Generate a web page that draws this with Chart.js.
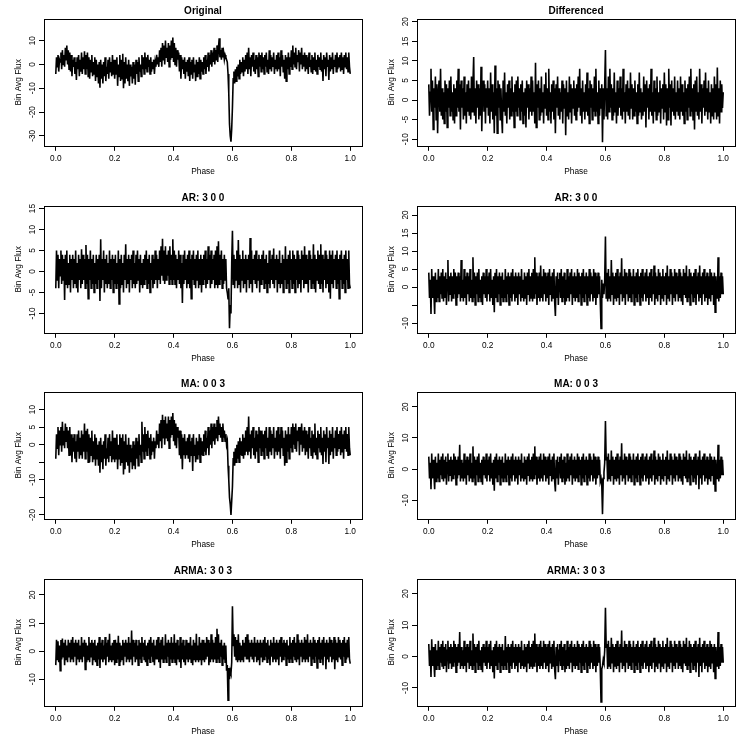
<!DOCTYPE html>
<html>
<head>
<meta charset="utf-8">
<script src="https://cdn.jsdelivr.net/npm/chart.js@4.4.1/dist/chart.umd.min.js"></script>
<style>
  html, body { margin: 0; padding: 0; background: #fff; }
  #page { position: relative; width: 750px; height: 750px; }
  #page canvas { position: absolute; }
</style>
</head>
<body>
<div id="page"></div>
<script>
/* ================= DATA ================= */
// bin average flux, 401 phase bins from 0.0 to 1.0 (one row = 0.05 in phase)
const original = [
  -4, 3, -1, 4, -3, 2, 1, 5, -2, 6, 0, 4, -1, 7, 2, 8, 0, 6, -2, 5,
  -3, 4, -5, 2, -1, 3, -4, 1, -6.5, 3, -2, 4, -5, 2, -3, 5, -4, 3, -2, 5.5,
  -4, 4, -2, 5, -5, 3, -6, 2, -3, 4, -5, 1, -4, 3, -7, 2, -5, 0, -8, 1,
  -9.8, 2, -6, 0, -8, 1, -5, 3, -7, -1, -4, 2, -6, 3, -3, 1, -5, 4, -4, 2,
  -6, 2, -4, 3, -9, 0, -5, 4, -7, 2, -6, 4.5, -10, 1, -8, 3, -6, 0, -7, 2,
  -9, 0, -5, -1, -8, 1, -6, 0, -8.5, 2, -4, 1, -7, 3, -3, 0, -5, 4, -2, 3,
  -4, 5, -2, 3, -3, 4, -1, 2, -4, 3, -3, 1, -2, 2, -4, 1, -1, 4, 0, 3,
  -1, 6, 1, 7, -1, 9, 2, 8, 0, 10, 3, 7, 1, 9, -1, 8, 2, 10, 3, 11.3,
  1, 9, 0, 7, -1, 6, 2, 5, -3, 4, -6, 3, -2, 2, -4, 3, -6, 1, -3, 2,
  -5, 3, -7, 1, -4, 2, -6, 3, -3, 0, -7, 2, -5, 1, -4, 3, -6, 2, -3, 1,
  -4, 3, -2, 4, -4, 2, -1, 5, -3, 4, 0, 6, -1, 5, 1, 7, 0, 6, 2, 8,
  1, 7, 11, 3, 6, 2, 7, 3, 5, 2, 4, 3, 2, 1, -4, -12, -25, -30, -32.5, -27,
  -18, -6, -3, -8, -2, -7, -1, -5, 0, -6, 2, -4, 1, -3, 3, -5, 2, -3, 4, -2,
  5, -4, 7, -2, 3, -5, 4, -1, 5, -3, 2, -4, 4, -2, 3, -5, 5, -1, 4, -3,
  5, -2, 3, -4, 4, -1, 5, -3, 2, -4, 6, -2, 4, -3, 3, -1, 5, -4, 2, -2,
  4, -3, 5, -2, 3, -5, 6, -1, 4, -3, 2, -6, 4, -7, 3, -2, 5, -4, 3, -1,
  6, -2, 8, 0, 5, -1, 7, -2, 4, 1, 6, -3, 5, 0, 7, -2, 4, -1, 5, -3,
  4, -2, 3, -4, 5, -1, 2, -3, 4, -4, 3, -2, 5, -3, 2, -4, 4, -1, 3, -2,
  5, -3, 2, -7, 4, -2, 3, -5, 5, -1, 2, -6.5, 4, -3, 3, -2, 5, -4, 2, -1,
  4, -3, 5, -2, 3, -1, 4, -3, 5, -2, 3, -4, 4, -1, 5, -2, 3, -3, 5, -1,
  -4
];

const differenced = [
  4, -4, 2, 8, -3, 5, -7.5, 3, -2, 6, -5, 4, -8.5, 2, 5, -3, 8, -4, 3, -5,
  2, -6, 5, -3, 4, -7, 3, -2, 5, -4, 6, -3, 2, -5, 4, -6, 3, -4, 5, -2,
  8, -3, 4, -7.5, 5, -2, 3, -5, 6, -4, 2, -6, 4, -3, 5, -4, 3, -5, 6, -3,
  4, 11, -4, 3, -6, 5, -2, 4, -5, 3, -4, 8.5, -8, 2, 5, -3, 4, -6, 3, -2,
  5, -4, 3, -6, 7, -3, 4, -5, 2, -8.5, 8.8, -4, 3, -8.5, 5, -2, 4, -5, 3, -4,
  -8.5, 5, -3, 7, -4, 2, -6, 4, -2, 5, -5, 3, -4, 6, -3, 2, -7, 4, -3, 5,
  -4, 6, -2, 3, -5, 4, -3, 5, -6, 2, -4, 3, -7, 5, -2, 4, -5, 3, -3, 6,
  -4, 5, -3, 2, -6, 9.5, -7, 4, -2, 5, -5, 3, -4, 6, -3, 2, -6, 4, -2, 7,
  -4, 3, -5, 8, -3, 2, -6, 4, -3, 5, -5, 3, -8.5, 4, -2, 6, -4, 3, -5, 2,
  -3, 5, -6, 4, -2, 3, -9, 5, -4, 2, -5, 6, -3, 4, -6, 3, -2, 5, -4, 3,
  -5, 4, -3, 6, -2, 8, -4, 3, -6, 5, -3, 2, -5, 4, -3, 7, -4, 3, -6, 5,
  -2, 4, -5, 3, -3, 6, -4, 8, -3, 2, -6, 5, -4, 3, -2, 4, -10.8, 3, -5, 4,
  12.8, -4, 3, -5, 6, -3, 8, -2, 4, -5, 3, -4, 7, -3, 2, -6, 5, -4, 3, -2,
  6, -4, 3, -5, 8, -3, 2, -6, 4, -3, 5, -4, 3, -5, 7, -2, 4, -5, 3, -4,
  5, -3, 2, -6, 4, -4, 7, -3, 3, -5, 2, -4, 6, -3, 4, -7, 5, -2, 3, -5,
  4, -3, 8, -4, 2, -6, 5, -3, 3, -5, 6, -4, 2, -3, 5, -6, 3, -2, 4, -5,
  7, -3, 4, -6.5, 3, -5, 8, -2, 4, -6.5, 5, -3, 3, -4, 6, -5, 2, -3, 5, -4,
  3, -5, 6, -3, 4, -4, 2, -6, 5, -3, 3, -5, 4, -2, 6, -4, 8, -3, 3, -5,
  4, -7.5, 5, -3, 6, -4, 2, -5, 8, -3, 4, -6, 3, -2, 5, -4, 7, -3, 3, -5,
  5, -3, 2, -6, 4, -4, 3, -5, 6, -3, 4, -5, 8.3, -4, 3, -6, 5, -3, 4, -2,
  2
];

const ar300a = [
  -4, 5, -2, 4, -4, 3, -1, 5, -3, 4, -2, 3, -6.8, 4, -3, 5, -4, 2, -3, 4,
  -5, 3, -2, 4, -4, 3, -3, 5, -4, 2, -5, 4, -2, 3, -4, 5.3, -3, 4, -2, 3,
  -4, 6.3, -3, 4, -6.5, 3, -2, 5, -4, 3, -3, 4, -5, 2, -3, 4, -4, 3, -2, 4,
  -7, 7.7, -4, 3, -2, 5, -5, 3, -3, 4, -4, 2, -3, 5, -4, 3, -2, 4, -5, 3,
  -3, 4, -4, 2, -3, 5, -7.7, 3, -4, 4, -3, 2, -5, 4, -2, 6.5, -4, 3, -3, 4,
  -5, 3, -2, 4, -4, 5, -3, 2, -4, 4, -3, 5, -2, 3, -5, 4, -3, 2, -4, 3,
  -3, 4, -2, 5, -4, 3, -3, 4, -5, 2, -2, 4, -4, 3, -3, 5, -2, 4, -4, 3,
  -2, 5, -3, 6, -1, 7.8, -2, 5, -3, 6, -2, 4, -1, 5, -3, 6, -2, 4, -3, 7.7,
  -2, 5, -3, 4, -4, 3, -2, 5, -3, 4, -4, 2, -7.5, 4, -3, 5, -2, 3, -4, 4,
  -3, 5, -4, 3, -6.5, 4, -2, 5, -3, 3, -4, 4, -2, 5, -4, 3, -3, 4, -5, 3,
  -3, 4, -2, 5, -4, 3, -3, 6, -2, 4, -4, 5, -3, 3, -2, 4, -4, 5, -3, 6,
  -4, 7.2, -3, 4, -2, 5, -4, 3, -3, 4, -2, 3, -4, -5, -6.5, -4, -13.5, -8, -10, 2,
  9.7, -3, 4, -4, 3, -2, 5, -4, 7.5, -3, 4, -5, 3, -2, 5, -4, 3, -3, 4, -5,
  3, -2, 4, -4, 8, -3, 5, -5, 3, -2, 4, -3, 5, -4, 3, -2, 4, -5, 3, -3,
  4, -2, 5, -4, 3, -3, 4, -5, 2, -3, 5, -4, 3, -2, 4, -3, 5.5, -4, 3, -2,
  4, -5, 3, -3, 5, -4, 2, -3, 4, -5, 3, -2, 6, -4, 3, -3, 4, -5, 5, -2,
  3, -4, 5, -3, 4, -5, 3, -2, 5, -4, 4, -3, 3, -5, 5, -2, 4, -4, 6, -3,
  4, -3, 3, -5, 5, -2, 4, -4, 3, -3, 6.5, -4, 4, -5, 3, -2, 5, -3, 4, -4,
  6.5, -3, 4, -5, 3, -2, 5, -4, 4, -3, 3, -5, 5, -6.5, 4, -3, 5, -4, 3, -2,
  4, -4, 5, -3, 3, -6.5, 4, -2, 5, -4, 3, -3, 4, -5, 5, -2, 3, -4, 5, -3,
  -4
];

const ar300b = [
  4, -3, 2, -7.5, 5, -3, 3, -2, -7.5, 4, -4, 2, -3, 5, -4, 3, -2, 4, -3, 5,
  -4, 3, -3, 4, -5, 2, 7.5, -4, 3, -2, 4, -4, 3, -3, 5, -2, 4, -5, 3, -3,
  4, -2, 3, -4, 7.5, -3, 2, -4, 5, -3, 3, -5, 4, -2, 3, -4, 5, -3, 2, -4,
  8.3, -3, 4, -5, 3, -2, 4, -4, 5, -3, 2, -4, 3, -5, 4, -2, 3, -3, 5, -4,
  3, -2, 4, -4, 5, -3, 2, -5, 3, -7, 4, -3, 5, -4, 3, -2, 4, -5, 3, -3,
  4, -4, 2, -3, 5, -4, 3, -2, 4, -5, 3, -3, 4, -4, 5, -2, 3, -4, 4, -3,
  3, -5, 4, -2, 3, -4, 5, -3, 2, -4, 4, -3, 3, -5, 4, -2, 5, -4, 3, -3,
  4, -4, 5, -3, 8.3, -2, 4, -5, 3, -3, 4, -4, 6, -3, 3, -4, 5, -2, 4, -4,
  3, -3, 4, -5, 5, -2, 3, -4, 4, -3, 5, -4, -8, 3, -3, 4, -5, 2, 4, -3,
  5, -4, 3, -3, 4, -5, 2, -4, 5, -3, 3, -4, 4, -2, 5, -5, 3, -3, 4, -4,
  3, -3, 5, -4, 4, -2, 3, -5, 4, -3, 5, -4, 3, -2, 4, -5, 3, -3, 5, -4,
  4, -2, 3, -4, 5, -3, 4, -5, 3, -3, 4, -2, 3, -4, -11.5, 2, -3, 1, -2, 2,
  14, -3, 4, -4, 5, -3, 3, -4, 7.5, -2, 4, -5, 3, -3, 4, -4, 5, -3, 3, -5,
  4, -2, 8, -4, 3, -3, 5, -5, 4, -2, 3, -4, 5, -3, 4, -4, 3, -2, 5, -5,
  3, -3, 4, -4, 5, -2, 3, -5, 4, -3, 5, -4, 3, -2, 4, -4, 5, -3, 3, -5,
  4, -3, 5, -4, 3, -2, 6, -5, 4, -3, 3, -4, 5, -2, 4, -5, 3, -3, 5, -4,
  3, -2, 4, -5, 6, -3, 3, -4, 5, -2, 4, -5, 3, -3, 5, -4, 4, -2, 3, -4,
  5, -3, 4, -4, 3, -5, 5, -2, 4, -3, 6, -4, 3, -3, 5, -5, 4, -2, 3, -4,
  4, -3, 5, -5, 3, -2, 4, -4, 6, -3, 3, -5, 4, -2, 5, -4, 3, -3, 4, -5,
  3, -3, 5, -4, 4, -2, 3, -5, 4, -7, 3, -3, -3, 8.3, -4, 3, -3, 4, -2, 3,
  -2
];

const ma003a = [
  -4, 3, -1, 5, -3, 4, 0, 5, -2, 6.5, 0, 4, -1, 6, 1, 5, -1, 4, -3, 5,
  -3, 3, -5, 2, -2, 3, -4, 1, -5, 3, -2, 4, -4, 2, -3, 4, -4, 3, -2, 6,
  -4, 4, -2, 4.5, -5, 3, -5, 2, -3, 4, -5, 1, -4, 3, -6, 2, -4, 0, -6, 1,
  -8, 2, -5, 0, -7, 1, -4, 3, -6, -1, -4, 2, -5, 3, -3, 1, -5, 4, -4, 2,
  -5, 2, -4, 3, -7, 0, -4, 3, -6, 2, -5, 3, -8.5, 1, -7, 3, -5, 0, -6, 2,
  -8, 0, -5, -1, -7, 1, -6, 0, -7, 2, -4, 1, -6, 3, -3, 0, -5, 6.5, -2, 3,
  -4, 5, -2, 3, -3, 4, -1, 2, -4, 3, -3, 1, -2, 2, -4, 1, -1, 4, 0, 3,
  -1, 6, 1, 7, -1, 8.5, 2, 7, 0, 8, 2, 6, 1, 8, -1, 7, 2, 8, 3, 9,
  1, 7, 0, 6, -1, 5, 2, 4, -3, 4, -4, 3, -7, 2, -3, 3, -4, 1, -3, 2,
  -4, 3, -5, 1, -3, 2, -7.5, 3, -3, 0, -5, 2, -4, 1, -3, 3, -5, 2, -3, 1,
  -3, 3, -2, 4, -3, 2, -1, 5, -3, 4, 0, 6, -1, 5, 1, 6, 0, 5, 2, 7,
  1, 8, 3, 6, 2, 5, 1, 6, 2, 4, 1, 3, 0, 1, -6, -10, -15, -17, -20, -16,
  -12, -4, -2, -6, -1, -5, 0, -4, 1, -5, 2, -3, 1, -3, 3, -4, 2, -3, 4, -2,
  5, -3, 8, -2, 3, -4, 4, -1, 5, -3, 2, -4, 4, -2, 3, -5, 5, -1, 4, -3,
  4, -2, 3, -4, 4, -1, 5, -3, 2, -4, 5, -2, 4, -3, 3, -1, 5, -4, 2, -2,
  4, -3, 5, -2, 3, -4, 5, -1, 4, -3, 2, -6, 4, -5, 3, -2, 5, -4, 3, -1,
  5, -2, 6, 0, 5, -1, 6, -2, 4, 1, 5, -3, 5, 0, 6, -2, 4, -1, 5, -3,
  4, -2, 3, -4, 5, -1, 2, -3, 4, -4, 3, -2, 6, -3, 2, -4, 4, -1, 3, -2,
  5, -3, 2, -5.5, 4, -2, 3, -5, 5, -1, 2, -5.5, 4, -3, 3, -2, 5, -4, 2, -1,
  4, -3, 5, -2, 3, -1, 4, -3, 5, -2, 3, -4, 4, -1, 5, -2, 3, -3, 5, -1,
  -3
];

const ma003b = [
  4, -3, 2, -6.5, 5, -3, 3, -2, -6.5, 4, -4, 2, -3, 5, -4, 3, -2, 4, -3, 5,
  -4, 3, -3, 4, -5, 2, 5, -4, 3, -2, 4, -4, 3, -3, 5, -2, 4, -5, 3, -3,
  4, -2, 7.8, -4, 3, -3, 2, -4, 5, -3, 3, -5, 4, -2, 3, -4, 5, -3, 2, -4,
  7.3, -3, 4, -5, 3, -2, 4, -4, 5, -3, 2, -4, 3, -5, 4, -2, 3, -3, 5, -4,
  3, -2, 4, -4, 5, -3, 2, -5, 3, -7, 4, -3, 5, -4, 3, -2, 4, -5, 3, -3,
  4, -4, 2, -3, 5, -4, 3, -2, 4, -5, 3, -3, 4, -4, 5, -2, 3, -4, 4, -3,
  3, -5, 4, -2, 3, -4, 5, -3, 2, -4, 4, -3, 3, -5, 4, -2, 5, -4, 3, -3,
  4, -4, 5, -3, 7.3, -2, 4, -5, 3, -3, 4, -4, 5, -3, 3, -4, 5, -2, 4, -4,
  3, -3, 4, -5, 5, -2, 3, -4, 4, -3, 5, -4, -7.2, 3, -3, 4, -5, 2, 4, -3,
  5, -4, 3, -3, 4, -5, 2, -4, 5, -3, 3, -4, 4, -2, 5, -5, 3, -3, 4, -4,
  3, -3, 5, -4, 4, -2, 3, -5, 4, -3, 5, -4, 3, -2, 4, -5, 3, -3, 5, -4,
  4, -2, 3, -4, 5, -3, 4, -5, 3, -3, 4, -2, 3, -4, -3, -5, -14.5, -3, -1, 2,
  15.5, 3, 4, -4, 5, -3, 3, -4, 6, -2, 4, -5, 3, -3, 4, -4, 5, -3, 3, -5,
  4, -2, 8.3, -4, 3, -3, 5, -5, 4, -2, 3, -4, 5, -3, 4, -4, 3, -2, 5, -5,
  3, -3, 4, -4, 5, -2, 3, -5, 4, -3, 5, -4, 3, -2, 4, -4, 5, -3, 3, -5,
  4, -3, 5, -4, 3, -2, 6, -5, 4, -3, 3, -4, 5, -2, 4, -5, 3, -3, 5, -4,
  3, -2, 4, -5, 6, -3, 3, -4, 5, -2, 4, -5, 3, -3, 5, -4, 4, -2, 3, -4,
  5, -3, 4, -4, 3, -5, 5, -2, 4, -3, 6, -4, 3, -3, 5, -5, 4, -2, 3, -4,
  4, -3, 5, -5, 3, -2, 4, -6.5, 6, -3, 3, -5, 4, -2, 5, -4, 3, -3, 4, -5,
  3, -3, 5, -4, 4, -2, 3, -5, 4, -7, 3, -3, -3, 7.8, -4, 3, -3, 4, -2, 3,
  -2
];

const arma303a = [
  -5, 4, -3, 3.5, -4, 2, -7, 4, -3, 4.5, -2, 3, -5, 4, -3, 2, -4, 4, -2, 3,
  -4, 4, -3, 5, -4, 3, -2, 4, -5, 3, -3, 4, -4, 2, -3, 5, -4, 3, -2, 4,
  -6.5, 3, -4, 2, -3, 5, -4, 3, -2, 4, -5, 3, -3, 4, -4, 2, -5, 3, -3, 5,
  -6, 3, -3, 4, -4, 2, -3, 5, -5, 3, -2, 4, -4, 6.2, -3, 2, -4, 3, -3, 4,
  -5, 4, -4, 3, -3, 5.5, -5, 3, -4, 2, -3, 4, -5, 3, -2, 4, -4, 3, -3, 5,
  -4, 3, -3, 7.3, -5, 4, -2, 3, -4, 4, -3, 2, -5, 4, -3, 3, -4, 5, -2, 3,
  -3, 4, -4, 2, -5, 3, -3, 4, -4, 5, -2, 3, -4, 4, -5, 2, -3, 4, -3, 5,
  -4, 3, -6, 4, -3, 5, -4, 2, -3, 6, -4, 3, -2, 4, -5, 3, -3, 5, -4, 3,
  -3, 6, -4, 3, -5, 4, -3, 2, -4, 5, -6, 3, -3, 4, -4, 2, -5, 4, -3, 3,
  -4, 3, -3, 5, -4, 2, -5, 4, -3, 3, -4, 6.2, -3, 2, -4, 5, -3, 3, -5, 4,
  -3, 4, -4, 3, -3, 5, -2, 4, -5, 3, -4, 6, -3, 4, -4, 3, -3, 5, -4, 8,
  -3, 6, -4, 3, -2, 4, -5, 2, -3, 3, -4, 2, -7, -5, -17.5, -6, -10, -7, -8, -4,
  16, 2, 6, -2, 5, -3, 4, -4, 6, -3, 3, -4, 2, -3, 4, -4, 3, -2, 5, -3,
  6, -3, 4, -4, 3, -2, 4, -3, 3, -4, 5, -2, 3, -4, 4, -3, 3, -5, 4, -2,
  3, -4, 4, -3, 5, -2, 3, -4, 4, -3, 2, -5, 4, -2, 3, -4, 5, -3, 3, -4,
  4, -3, 3, -5, 4, -2, 5, -4, 3, -3, 4, -2, 3, -5, 4, -3, 2, -4, 5, -3,
  3, -4, 4, -2, 5, -3, 3, -4, 6, -3, 4, -5, 3, -2, 4, -4, 3, -3, 5, -4,
  4, -3, 6, -4, 3, -2, 4, -5, 3, -3, 5, -4, 4, -2, 3, -6, 4, -3, 5, -4,
  3, -3, 4, -5, 5, -2, 3, -6.5, 4, -3, 3, -4, 5, -2, 4, -4, 3, -3, 5, -6.5,
  4, -3, 3, -4, 5, -2, 4, -3, 3, -5, 4, -2, 5, -4, 3, -3, 4, -2, 5, -3,
  -4.5
];

const arma303b = [
  4, -3, 2, -6.5, 5.5, -3, 3, -2, -6.5, 4, -4, 2, -3, 5, -4, 3, -2, 4, -3, 5,
  -4, 3, -3, 4, -5, 2, 5, -4, 3, -2, 4, -4, 3, -3, 5, -2, 4, -5, 3, -3,
  4, -2, 7.8, -4, 3, -3, 2, -4, 5, -3, 3, -5, 4, -2, 3, -4, 5, -3, 2, -4,
  7.3, -3, 4, -5, 3, -2, 4, -4, 5, -3, 2, -4, 3, -5, 4, -2, 3, -3, 5, -4,
  3, -2, 4, -4, 5, -3, 2, -5, 3, -7, 4, -3, 5, -4, 3, -2, 4, -5, 3, -3,
  4, -4, 2, -3, 6.5, -4, 3, -2, 4, -5, 3, -3, 4, -4, 5, -2, 3, -4, 4, -3,
  3, -5, 4, -2, 3, -4, 5, -3, 2, -4, 4, -3, 3, -5, 4, -2, 5, -4, 3, -3,
  4, -4, 5, -3, 7.3, -2, 4, -5, 3, -3, 4, -4, 5, -3, 3, -4, 5, -2, 4, -4,
  3, -3, 4, -5, 5, -2, 3, -4, 4, -3, 5, -4, -7.2, 3, -3, 4, -5, 2, 4, -3,
  5, -4, 3, -3, 4, -5, 2, -4, 5, -3, 3, -4, 4, -2, 5, -5, 3, -3, 4, -4,
  3, -3, 5, -4, 4, -2, 3, -5, 4, -3, 5, -4, 3, -2, 4, -5, 3, -3, 5, -4,
  4, -2, 3, -4, 5, -3, 4, -5, 3, -3, 4, -2, 3, -4, -14.5, -4, -3, -1, -2, 2,
  15.5, 3, 4, -4, 5, -3, 3, -4, 6, -2, 4, -5, 3, -3, 4, -4, 5, -3, 3, -5,
  4, -2, 8.3, -4, 3, -3, 5, -5, 4, -2, 3, -4, 5, -3, 4, -4, 3, -2, 5, -5,
  3, -3, 4, -4, 5, -2, 3, -5, 4, -3, 5, -4, 3, -2, 4, -4, 5, -3, 3, -5,
  4, -3, 5, -4, 3, -2, 6, -5, 4, -3, 3, -4, 5, -2, 4, -5, 3, -3, 5, -4,
  3, -2, 4, -5, 6, -3, 3, -4, 5, -2, 4, -5, 3, -3, 5, -4, 4, -2, 3, -4,
  5, -3, 4, -4, 3, -5, 5, -2, 4, -3, 6, -4, 3, -3, 5, -5, 4, -2, 3, -4,
  4, -3, 5, -5, 3, -2, 4, -6.5, 6, -3, 3, -5, 4, -2, 5, -4, 3, -3, 4, -5,
  3, -3, 5, -4, 4, -2, 3, -5, 4, -7, 3, -3, -3, 7.8, -4, 3, -3, 4, -2, 3,
  -2
];

// axes
const xTicks = [0, 0.2, 0.4, 0.6, 0.8, 1.0];
const xRange = [-0.04, 1.04];

const titles  = ["Original", "Differenced", "AR: 3 0 0", "AR: 3 0 0",
                 "MA: 0 0 3", "MA: 0 0 3", "ARMA: 3 0 3", "ARMA: 3 0 3"];
const series  = [original, differenced, ar300a, ar300b,
                 ma003a, ma003b, arma303a, arma303b];
const yRanges = [[-34.2, 19.1], [-11.7, 20.7], [-14.6, 15.6], [-12.7, 22.5],
                 [-21.1, 15.0], [-16.0, 24.8], [-19.5, 25.7], [-15.7, 24.7]];
const yTicks  = [[-30, -20, -10, 0, 10],
                 [-10, -5, 0, 5, 10, 15, 20],
                 [-10, -5, 0, 5, 10, 15],
                 [-10, -5, 0, 5, 10, 15, 20],
                 [-20, -15, -10, -5, 0, 5, 10],
                 [-10, 0, 10, 20],
                 [-10, 0, 10, 20],
                 [-10, 0, 10, 20]];
const yLabels = [[-30, -20, -10, 0, 10],
                 [-10, -5, 0, 5, 10, 15, 20],
                 [-10, -5, 0, 5, 10, 15],
                 [-10, 0, 5, 10, 15, 20],
                 [-20, -10, 0, 5, 10],
                 [-10, 0, 10, 20],
                 [-10, 0, 10, 20],
                 [-10, 0, 10, 20]];

/* ================= LAYOUT ================= */
const FONT = '"Liberation Sans", Arial, Helvetica, sans-serif';
const colLeft = [0, 373];
const rowTop  = [0, 187, 373, 560];
const CW = 375, CH = 187;
const BOX_L = 44, BOX_W = 318, BOX_T = 19, BOX_H = 126.8;

Chart.defaults.font.family = FONT;
Chart.defaults.color = "#000";

// R style frame + rotated y labels
const rFrame = {
  id: "rFrame",
  afterDraw(chart, args, opts) {
    const { ctx, chartArea: a } = chart;
    const y = chart.scales.y;
    ctx.save();
    ctx.strokeStyle = "#000";
    ctx.lineWidth = 1;
    ctx.strokeRect(Math.round(a.left) + 0.5, Math.round(a.top) + 0.5,
                   Math.round(a.width), Math.round(a.height));
    ctx.fillStyle = "#000";
    ctx.font = "8.3px " + FONT;
    ctx.textAlign = "center";
    ctx.textBaseline = "middle";
    opts.labels.forEach(v => {
      ctx.save();
      ctx.translate(a.left - 11.5, y.getPixelForValue(v));
      ctx.rotate(-Math.PI / 2);
      ctx.fillText(String(v), 0, 0);
      ctx.restore();
    });
    ctx.restore();
  }
};

const page = document.getElementById("page");

series.forEach((vals, k) => {
  const canvas = document.createElement("canvas");
  canvas.width = CW;
  canvas.height = CH;
  canvas.style.left = colLeft[k % 2] + "px";
  canvas.style.top = rowTop[Math.floor(k / 2)] + "px";
  page.appendChild(canvas);

  const pts = vals.map((v, i) => ({ x: i / (vals.length - 1), y: v }));

  new Chart(canvas, {
    type: "line",
    data: {
      datasets: [{
        data: pts,
        borderColor: "#000",
        borderWidth: 1.6,
        pointRadius: 0,
        tension: 0,
        fill: false
      }]
    },
    options: {
      responsive: false,
      animation: false,
      devicePixelRatio: 1,
      events: [],
      layout: { padding: { top: 0, left: 0, right: CW - BOX_L - BOX_W, bottom: 0 } },
      plugins: {
        legend: { display: false },
        tooltip: { enabled: false },
        title: {
          display: true,
          text: titles[k],
          fullSize: false,
          color: "#000",
          font: { size: 10, weight: "bold", family: FONT },
          padding: { top: 5, bottom: 2 }
        },
        rFrame: { labels: yLabels[k] }
      },
      scales: {
        x: {
          type: "linear",
          min: xRange[0],
          max: xRange[1],
          afterBuildTicks: s => { s.ticks = xTicks.map(value => ({ value })); },
          afterFit: s => { s.height = CH - BOX_T - BOX_H; },
          grid: { drawOnChartArea: false, drawTicks: true, tickLength: 5, color: "#000", lineWidth: 1 },
          border: { display: false },
          ticks: {
            autoSkip: false, maxRotation: 0, padding: 3,
            font: { size: 8.3 }, color: "#000",
            callback: v => v.toFixed(1)
          },
          title: { display: true, text: "Phase", font: { size: 8.3 }, padding: { top: 0, bottom: 10.3 } }
        },
        y: {
          type: "linear",
          min: yRanges[k][0],
          max: yRanges[k][1],
          afterBuildTicks: s => { s.ticks = yTicks[k].map(value => ({ value })); },
          afterFit: s => { s.width = BOX_L; },
          grid: { drawOnChartArea: false, drawTicks: true, tickLength: 5, color: "#000", lineWidth: 1 },
          border: { display: false },
          ticks: { display: false },
          title: { display: true, text: "Bin Avg Flux", font: { size: 8.3 }, padding: { top: 14, bottom: 0 } }
        }
      }
    },
    plugins: [rFrame]
  });
});
</script>
</body>
</html>
